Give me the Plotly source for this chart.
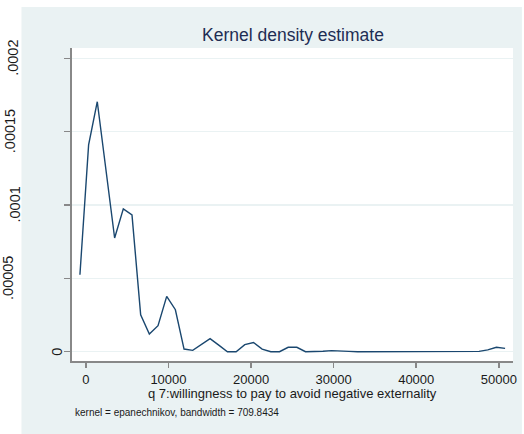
import plotly.graph_objects as go

# ---- data ----
x_grid = [-720, 331, 1381, 2432, 3482, 4533, 5584, 6634, 7685, 8735,
          9786, 10837, 11887, 12938, 13988, 15039, 16090, 17140, 18191, 19241,
          20292, 21343, 22393, 23444, 24494, 25545, 26596, 27646, 28697, 29747,
          30798, 31849, 32899, 33950, 35000, 36051, 37102, 38152, 39203, 40253,
          41304, 42355, 43405, 44456, 45506, 46557, 47608, 48658, 49709, 50759]
density = [5.25e-5, 1.41e-4, 1.704e-4, 1.23e-4, 7.75e-5, 9.74e-5, 9.33e-5, 2.52e-5, 1.21e-5, 1.77e-5,
           3.77e-5, 2.86e-5, 1.8e-6, 9e-7, 4.9e-6, 8.9e-6, 4.5e-6, 0.0, 0.0, 4.8e-6,
           6.3e-6, 1.8e-6, 0.0, 0.0, 3.0e-6, 3.0e-6, 0.0, 0.0, 3e-7, 7e-7,
           7e-7, 2e-7, 0.0, 0.0, 0.0, 0.0, 0.0, 0.0, 0.0, 0.0,
           0.0, 0.0, 0.0, 0.0, 0.0, 0.0, 2e-7, 1.2e-6, 3.0e-6, 2.3e-6]
x_ticks = [0, 10000, 20000, 30000, 40000, 50000]
y_ticks = [0, 0.00005, 0.0001, 0.00015, 0.0002]
y_tick_labels = ["0", ".00005", ".0001", ".00015", ".0002"]
y_label_px = [57, 8, 14, 9, 13]   # horizontal pixel centre of each rotated label

title_text = "Kernel density estimate"
x_title = "q 7:willingness to pay to avoid negative externality"
note_text = "kernel = epanechnikov, bandwidth = 709.8434"

# ---- layout geometry ----
W, H = 524, 434
L, R, T, B = 72, 7, 48, 73
PW, PH = W - L - R, H - T - B


def px_x(p):
    return (p - L) / PW


def px_y(p):
    return (H - B - p) / PH


FONT = "Liberation Sans, Arial, sans-serif"
BG = "#EAF2F3"

fig = go.Figure()
fig.add_trace(go.Scatter(x=x_grid, y=density, mode="lines",
                         line=dict(color="#1A476F", width=1.4),
                         hoverinfo="skip", showlegend=False))

shapes = [
    dict(type="rect", xref="paper", yref="paper", x0=px_x(21), x1=px_x(W + 2),
         y0=px_y(H + 2), y1=px_y(7), fillcolor=BG, line=dict(width=0), layer="below"),
    dict(type="rect", xref="paper", yref="paper", x0=0, x1=1, y0=0, y1=1,
         fillcolor="white", line=dict(width=0), layer="below"),
]

annotations = []
for v, t, p in zip(y_ticks, y_tick_labels, y_label_px):
    annotations.append(dict(text=t, xref="paper", yref="y", x=px_x(p), y=v,
                            xanchor="center", yanchor="middle", textangle=-90,
                            showarrow=False, font=dict(family=FONT, size=14.5, color="#1a1a1a")))
annotations.append(dict(text=x_title, xref="paper", yref="paper", x=0.5, y=px_y(393),
                        xanchor="center", yanchor="middle", showarrow=False,
                        font=dict(family=FONT, size=13, color="#1a1a1a")))
annotations.append(dict(text=note_text, xref="paper", yref="paper", x=px_x(73), y=px_y(412),
                        xanchor="left", yanchor="middle", showarrow=False,
                        font=dict(family=FONT, size=10, color="#1a1a1a")))
annotations.append(dict(text=title_text, xref="paper", yref="paper", x=0.5, y=px_y(35),
                        xanchor="center", yanchor="middle", showarrow=False,
                        font=dict(family=FONT, size=17.5, color="#1E2D53")))

fig.update_layout(
    width=W, height=H,
    margin=dict(l=L, r=R, t=T, b=B, pad=0),
    paper_bgcolor="white", plot_bgcolor="white",
    shapes=shapes, annotations=annotations,
    xaxis=dict(range=[-1680, 51716], tickvals=x_ticks,
               tickformat="d", showgrid=False, zeroline=False,
               showline=True, linecolor="#888888", linewidth=2,
               ticks="outside", ticklen=5, tickwidth=1.5, tickcolor="#888888",
               tickfont=dict(family=FONT, size=13, color="#1a1a1a")),
    yaxis=dict(range=[-0.00000634, 0.00020702], tickvals=y_ticks,
               showticklabels=False, showgrid=True, gridcolor=BG, gridwidth=1.5,
               zeroline=False, showline=True, linecolor="#888888", linewidth=2,
               ticks="outside", ticklen=6, tickwidth=1.5, tickcolor="#888888"),
)

fig.write_html("out.html",
               config={"displayModeBar": False, "staticPlot": True},
               post_script="document.body.style.margin='0';document.body.style.overflow='hidden';")
